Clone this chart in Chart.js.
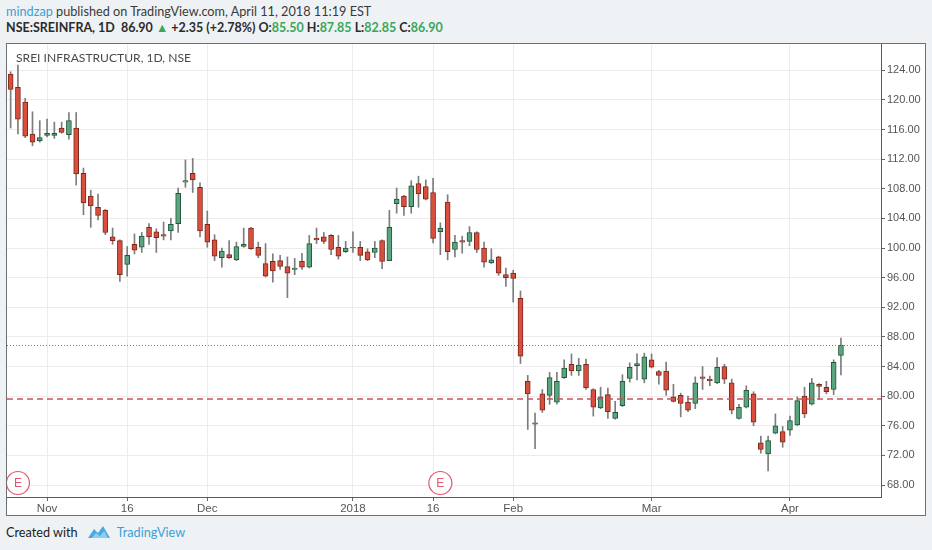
<!DOCTYPE html>
<html>
<head>
<meta charset="utf-8">
<script src="https://cdn.jsdelivr.net/npm/chart.js@4.4.1/dist/chart.umd.min.js"></script>
<style>
  html, body { margin: 0; padding: 0; }
  body { width: 932px; height: 550px; background: #eef2f5; position: relative; overflow: hidden; font-family: Lato, sans-serif; }
  #h1 { position: absolute; left: 6px; top: 3px; font-size: 12.7px; color: #3a3a3a; white-space: nowrap; }
  #h1 .user { color: #3d9fd6; }
  #h2 { position: absolute; left: 6px; top: 20px; font-size: 12.5px; font-weight: 700; color: #2b2b2b; white-space: nowrap; }
  #h2 .g { color: #3aa65a; }
  #frame { position: absolute; left: 6px; top: 43px; width: 920px; height: 473px; box-sizing: border-box; border: 1px solid #6f6f6f; background: #fff; }
  #frame canvas { position: absolute; left: 0; top: 0; }
  #title { position: absolute; left: 9px; top: 6px; font-family: Lato, sans-serif; font-size: 12.1px; color: #4a4a4a; z-index: 2; }
  #foot { position: absolute; left: 6px; top: 524px; font-size: 12.7px; color: #222; white-space: nowrap; display: flex; align-items: center; }
  #foot .tv { color: #3d9fd6; margin-left: 6px; }
  #foot svg { margin-left: 9px; }
</style>
</head>
<body>
<div id="h1"><span class="user">mindzap</span> published on TradingView.com, April 11, 2018 11:19 EST</div>
<div id="h2"></div>
<div id="frame">
  <div id="title">SREI INFRASTRUCTUR, 1D, NSE</div>
  <canvas id="myChart" width="918" height="471"></canvas>
</div>
<div id="foot">Created with
  <svg width="24" height="16" viewBox="0 0 24 16"><path d="M1 14 L7 5 L11 9 L16 2 L23 14 Z" fill="#4aa9e0"/><path d="M5 14 L9 9 L13 12 L17 7 L21 14 Z" fill="#8fcdf0"/></svg>
  <span class="tv">TradingView</span>
</div>

<script>
// trading days (NSE, 1D), plus a few empty future slots on the right
const dates = [
  "2017-10-25","2017-10-26","2017-10-27","2017-10-30","2017-10-31",
  "2017-11-01","2017-11-02","2017-11-03","2017-11-06","2017-11-07","2017-11-08","2017-11-09","2017-11-10",
  "2017-11-13","2017-11-14","2017-11-15","2017-11-16","2017-11-17","2017-11-20","2017-11-21","2017-11-22",
  "2017-11-23","2017-11-24","2017-11-27","2017-11-28","2017-11-29","2017-11-30",
  "2017-12-01","2017-12-04","2017-12-05","2017-12-06","2017-12-07","2017-12-08","2017-12-11","2017-12-12",
  "2017-12-13","2017-12-14","2017-12-15","2017-12-18","2017-12-19","2017-12-20","2017-12-21","2017-12-22",
  "2017-12-26","2017-12-27","2017-12-28","2017-12-29",
  "2018-01-01","2018-01-02","2018-01-03","2018-01-04","2018-01-05","2018-01-08","2018-01-09","2018-01-10",
  "2018-01-11","2018-01-12","2018-01-15","2018-01-16","2018-01-17","2018-01-18","2018-01-19","2018-01-22",
  "2018-01-23","2018-01-24","2018-01-25","2018-01-29","2018-01-30","2018-01-31",
  "2018-02-01","2018-02-02","2018-02-05","2018-02-06","2018-02-07","2018-02-08","2018-02-09","2018-02-12",
  "2018-02-14","2018-02-15","2018-02-16","2018-02-19","2018-02-20","2018-02-21","2018-02-22","2018-02-23",
  "2018-02-26","2018-02-27","2018-02-28",
  "2018-03-01","2018-03-05","2018-03-06","2018-03-07","2018-03-08","2018-03-09","2018-03-12","2018-03-13",
  "2018-03-14","2018-03-15","2018-03-16","2018-03-19","2018-03-20","2018-03-21","2018-03-22","2018-03-23",
  "2018-03-26","2018-03-27","2018-03-28",
  "2018-04-02","2018-04-03","2018-04-04","2018-04-05","2018-04-06","2018-04-09","2018-04-10","2018-04-11",
  "2018-04-12","2018-04-13","2018-04-16","2018-04-17","2018-04-18"
];

const open = [
  123.5,121.7,119.7,115.4,114.5,115.2,115.2,116.2,115.3,116.2,
  110.1,107.0,105.5,105.1,101.5,101.0,97.8,100.5,100.1,102.8,
  102.2,101.8,102.3,103.3,108.9,110.1,108.2,103.2,101.1,98.7,
  99.1,98.4,100.2,102.7,100.1,97.9,98.2,98.3,97.5,97.1,
  98.2,97.4,101.3,101.5,101.7,100.1,99.5,100.1,100.1,99.5,
  99.4,101.0,98.3,106.0,107.0,105.6,108.7,108.3,107.5,102.2,
  106.2,99.8,101.0,100.9,102.1,100.0,98.0,98.8,96.4,96.6,
  93.2,82.0,76.2,80.3,80.1,79.2,82.5,84.3,83.4,84.3,
  80.9,78.4,80.2,77.0,78.7,82.4,84.1,82.3,84.9,83.3,
  83.4,79.9,80.1,79.2,79.0,82.6,82.3,81.8,84.0,81.8,
  77.0,78.5,80.3,73.7,72.2,75.0,75.2,75.4,76.1,80.0,
  78.9,81.6,81.2,80.9,85.5
];
const high = [
  123.8,124.7,120.2,118.4,117.2,117.4,117.0,117.0,118.3,118.3,
  110.8,107.8,107.3,105.2,102.7,101.1,100.2,101.9,102.1,103.3,
  102.6,103.5,104.0,108.1,111.9,112.1,108.8,105.0,101.8,100.0,
  101.0,100.8,102.7,102.8,100.8,100.6,99.2,99.0,98.8,98.6,
  99.3,101.7,102.7,102.1,101.8,101.7,100.9,102.2,100.9,99.9,
  100.9,101.1,105.1,108.1,107.1,109.1,109.7,109.2,109.4,103.4,
  107.2,101.7,101.6,102.9,102.2,100.8,99.9,98.9,97.3,97.0,
  94.2,82.8,77.7,80.9,83.2,83.2,84.9,85.7,85.1,85.0,
  81.0,81.2,81.1,79.3,82.9,84.5,85.7,85.8,85.7,83.5,
  84.6,81.6,80.4,80.0,82.6,84.0,82.7,85.2,84.3,82.3,
  78.9,81.4,80.6,74.6,74.6,77.6,75.9,77.3,79.9,81.2,
  82.4,81.7,82.0,84.9,87.85
];
const low = [
  116.2,115.4,114.9,113.8,114.3,115.0,114.8,115.5,114.7,108.5,
  104.5,102.8,103.8,101.8,100.5,95.5,96.2,99.2,99.4,100.5,
  99.4,101.1,101.1,102.1,108.2,107.5,101.5,100.1,98.3,97.4,
  98.6,98.3,100.1,99.8,98.7,96.1,95.4,97.1,93.3,96.4,
  97.1,97.3,100.6,100.6,99.1,98.5,99.4,99.4,98.3,98.3,
  98.7,97.2,98.3,104.7,104.4,104.7,105.5,106.5,100.7,99.1,
  98.4,98.8,99.3,100.3,99.4,97.4,97.9,96.3,94.8,92.7,
  84.4,75.5,72.9,77.8,78.9,78.9,82.4,82.8,82.8,80.9,
  77.3,78.3,77.0,76.9,78.6,81.9,82.2,81.8,83.8,81.6,
  80.1,79.2,77.2,77.9,78.3,80.9,81.4,81.7,81.7,77.6,
  76.9,78.4,76.0,72.3,69.9,74.9,73.1,74.7,76.0,77.1,
  78.8,79.6,80.3,80.2,82.85
];
const close = [
  121.4,117.4,115.1,114.3,114.9,115.5,115.5,115.6,117.2,110.0,
  106.1,105.7,104.4,102.1,101.0,96.4,99.0,99.7,101.6,101.5,
  101.4,101.6,103.2,107.4,109.1,109.2,102.3,100.8,98.9,99.6,
  98.7,100.2,100.5,99.9,99.0,96.2,96.9,97.5,96.6,97.3,
  97.4,100.6,101.1,100.9,99.8,98.9,100.0,100.0,99.0,98.4,
  100.0,98.2,102.8,106.6,105.6,108.4,107.3,106.6,101.3,102.7,
  99.5,100.8,100.8,102.1,99.8,98.1,98.4,96.6,96.0,95.9,
  85.4,80.3,76.4,78.1,82.5,82.0,83.8,83.4,84.2,81.1,
  78.5,79.9,77.9,77.8,82.0,83.9,84.4,85.3,83.9,82.8,
  80.8,79.3,79.0,78.1,81.8,82.4,82.1,83.9,82.3,78.1,
  78.5,80.8,76.5,72.8,74.0,76.0,73.8,76.7,79.4,77.6,
  81.8,81.3,80.6,84.55,86.9
];

const yTicks = [68, 72, 76, 80, 84, 88, 92, 96, 100, 104, 108, 112, 116, 120, 124];
const xTickDates = ["2017-11-01","2017-11-16","2017-12-01","2018-01-01","2018-01-16","2018-02-01","2018-03-01","2018-04-02"];
const xTickText = ["Nov", "16", "Dec", "2018", "16", "Feb", "Mar", "Apr"];
const earningsDates = ["2017-10-26", "2018-01-17"];
const lastPrice = close[close.length - 1];
const levelLine = 79.55;

const UP = "#5aa57f", UP_EDGE = "#23573b";
const DOWN = "#d94f3d", DOWN_EDGE = "#7c271c";

// header quote from the last candle
const n = close.length - 1;
const chg = close[n] - close[n - 1];
document.getElementById("h2").innerHTML =
  "NSE:SREINFRA, 1D&nbsp; " + close[n].toFixed(2) +
  " <span class='g'>&#9650;</span> +" + chg.toFixed(2) +
  " (+" + (chg / close[n - 1] * 100).toFixed(2) + "%)" +
  " O:<span class='g'>" + open[n].toFixed(2) + "</span>" +
  " H:<span class='g'>" + high[n].toFixed(2) + "</span>" +
  " L:<span class='g'>" + low[n].toFixed(2) + "</span>" +
  " C:<span class='g'>" + close[n].toFixed(2) + "</span>";

const xTickIdx = xTickDates.map(d => dates.indexOf(d));
const isUp = open.map((o, i) => close[i] >= o);

const overlay = {
  id: "overlay",
  afterDatasetsDraw(chart) {
    const ctx = chart.ctx, a = chart.chartArea;
    const x = chart.scales.x, y = chart.scales.y;
    ctx.save();
    ctx.beginPath();
    ctx.rect(a.left, a.top, a.right - a.left, a.bottom - a.top);
    ctx.clip();

    // last price dotted line
    let py = Math.round(y.getPixelForValue(lastPrice)) + 0.5;
    ctx.strokeStyle = "#3f9c78";
    ctx.lineWidth = 1;
    ctx.setLineDash([1, 2]);
    ctx.beginPath(); ctx.moveTo(a.left, py); ctx.lineTo(a.right, py); ctx.stroke();

    // horizontal level
    py = Math.round(y.getPixelForValue(levelLine));
    ctx.strokeStyle = "#c9545c";
    ctx.lineWidth = 1.5;
    ctx.setLineDash([6, 4]);
    ctx.beginPath(); ctx.moveTo(a.left, py); ctx.lineTo(a.right, py); ctx.stroke();
    ctx.setLineDash([]);

    // earnings markers
    earningsDates.forEach(d => {
      const cx = x.getPixelForValue(dates.indexOf(d));
      const cy = a.bottom - 14;
      ctx.beginPath();
      ctx.arc(cx, cy, 11.5, 0, Math.PI * 2);
      ctx.fillStyle = "#fff";
      ctx.fill();
      ctx.strokeStyle = "#e3566f";
      ctx.lineWidth = 1.2;
      ctx.stroke();
      ctx.fillStyle = "#e3566f";
      ctx.font = "12px 'Liberation Sans'";
      ctx.textAlign = "center";
      ctx.textBaseline = "middle";
      ctx.fillText("E", cx, cy + 1);
    });
    ctx.restore();
  }
};

const noPad = s => { s.paddingTop = 0; s.paddingBottom = 0; s.paddingLeft = 0; s.paddingRight = 0; };

const data = {
  labels: dates,
  datasets: [
    {
      label: "bodies",
      data: open.map((o, i) => [o, close[i]]),
      backgroundColor: isUp.map(u => u ? UP : DOWN),
      borderColor: isUp.map(u => u ? UP_EDGE : DOWN_EDGE),
      borderWidth: 1,
      borderSkipped: false,
      barThickness: 5,
      grouped: false,
      order: 1
    },
    {
      label: "wicks",
      data: low.map((l, i) => [l, high[i]]),
      backgroundColor: "#7d7d7d",
      borderWidth: 0,
      barThickness: 1,
      grouped: false,
      order: 2
    }
  ]
};

const config = {
  type: "bar",
  data: data,
  options: {
    responsive: false,
    animation: false,
    layout: { padding: 0 },
    plugins: {
      legend: { display: false },
      tooltip: { enabled: false }
    },
    scales: {
      x: {
        type: "category",
        offset: true,
        grid: { offset: false, color: "#ececec", tickColor: "#666", tickLength: 4 },
        border: { color: "#5a5a5a" },
        afterBuildTicks: s => { s.ticks = xTickIdx.map(v => ({ value: v })); },
        afterFit: s => { s.height = 18; noPad(s); },
        ticks: {
          autoSkip: false,
          maxRotation: 0,
          padding: 1,
          color: "#555",
          font: { family: "Liberation Sans", size: 11.5 },
          callback: v => xTickText[xTickIdx.indexOf(v)]
        }
      },
      y: {
        type: "linear",
        position: "right",
        min: 66.38,
        max: 127.55,
        grid: { color: "#ececec", tickColor: "#666", tickLength: 4 },
        border: { color: "#5a5a5a" },
        afterBuildTicks: s => { s.ticks = yTicks.map(v => ({ value: v })); },
        afterFit: s => { s.width = 44; noPad(s); },
        ticks: {
          padding: 2,
          color: "#555",
          font: { family: "Liberation Sans", size: 11 },
          callback: v => Number(v).toFixed(2)
        }
      }
    }
  },
  plugins: [overlay]
};

const MyChart = new Chart(document.getElementById("myChart"), config);
</script>
</body>
</html>
